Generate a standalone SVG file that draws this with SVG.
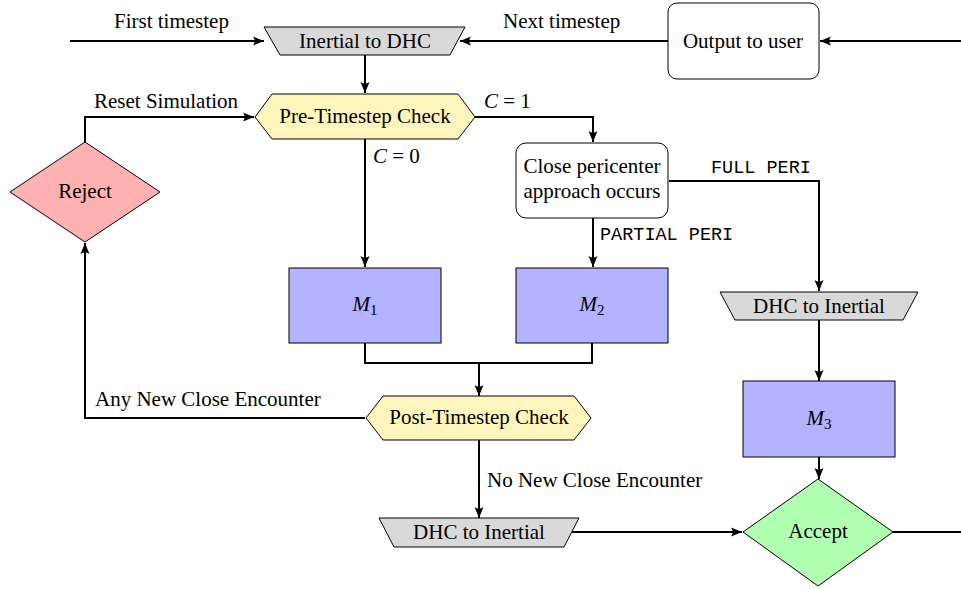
<svg xmlns="http://www.w3.org/2000/svg" width="961" height="589" viewBox="0 0 961 589">
<defs>
<marker id="arr" markerUnits="userSpaceOnUse" markerWidth="13" markerHeight="11" refX="11" refY="4.5" orient="auto" overflow="visible">
<path d="M0,0 L11,4.5 L0,9 Q3.5,4.5 0,0 Z" fill="#000"/>
</marker>
<style>
text{font-family:"Liberation Serif","Times New Roman",serif;font-size:21px;fill:#000}
.c{text-anchor:middle}
.mono{font-family:"Liberation Mono","DejaVu Sans Mono",monospace;font-size:18.5px}
.it{font-style:italic}
.sub{font-size:15px}
.gray{fill:#d9d9d9;stroke:#000;stroke-width:1}
.yel{fill:#fdf5bc;stroke:#000;stroke-width:1}
.blue{fill:#b3b3ff;stroke:#000;stroke-width:1}
.red{fill:#ffb0b0;stroke:#000;stroke-width:1}
.grn{fill:#b0ffb0;stroke:#000;stroke-width:1}
.wht{fill:#fff;stroke:#000;stroke-width:1}
.e{fill:none;stroke:#000;stroke-width:2}
.a{marker-end:url(#arr)}
</style>
</defs>
<rect width="961" height="589" fill="#fff"/>

<g id="connectors">
<path class="e a" d="M70,41 H264"/>
<path class="e a" d="M668,41 H460"/>
<path class="e a" d="M961,41 H820"/>
<path class="e a" d="M365,55 V93"/>
<path class="e a" d="M85,142 V117 H254"/>
<path class="e a" d="M475,117 H593 V142"/>
<path class="e a" d="M365,139 V267"/>
<path class="e a" d="M593,218 V267"/>
<path class="e a" d="M669,181 H819 V291"/>
<path class="e" d="M365,343 V363 H592 V343"/>
<path class="e a" d="M479,363 V396"/>
<path class="e a" d="M365,418 H85 V243"/>
<path class="e a" d="M479,440 V518"/>
<path class="e a" d="M572,532 H742"/>
<path class="e a" d="M819,320 V381"/>
<path class="e a" d="M819,457 V479"/>
<path class="e" d="M893,532 H961"/>
<text x="114" y="28">First timestep</text>
<text x="503" y="28">Next timestep</text>
<text x="94" y="108">Reset Simulation</text>
<text x="484" y="108"><tspan class="it">C</tspan> = 1</text>
<text x="373" y="163"><tspan class="it">C</tspan> = 0</text>
<text class="mono" x="711" y="173">FULL PERI</text>
<text class="mono" x="600" y="240">PARTIAL PERI</text>
<text x="95" y="406">Any New Close Encounter</text>
<text x="487" y="487">No New Close Encounter</text>
</g>

<g id="inertial_to_dhc">
<polygon class="gray" points="264,27 465,27 450,55 280,55"/>
<text class="c" x="365" y="48">Inertial to DHC</text>
</g>

<g id="output_to_user">
<rect class="wht" x="668" y="3" width="151" height="76" rx="9"/>
<text class="c" x="743" y="48">Output to user</text>
</g>

<g id="pre_check">
<polygon class="yel" points="255,117 272,94 458,94 475,117 458,139 272,139"/>
<text class="c" x="365" y="123">Pre-Timestep Check</text>
</g>

<g id="reject">
<polygon class="red" points="85,142 160,192 85,242 10,192"/>
<text class="c" x="85" y="198">Reject</text>
</g>

<g id="close_peri">
<rect class="wht" x="516" y="143" width="152" height="75" rx="10"/>
<text class="c" x="592" y="173">Close pericenter</text>
<text class="c" x="592" y="198">approach occurs</text>
</g>

<g id="m1">
<rect class="blue" x="289" y="268" width="152" height="75"/>
<text class="c" x="365" y="311"><tspan class="it">M</tspan><tspan class="sub" dy="4">1</tspan></text>
</g>

<g id="m2">
<rect class="blue" x="516" y="268" width="152" height="75"/>
<text class="c" x="592" y="311"><tspan class="it">M</tspan><tspan class="sub" dy="4">2</tspan></text>
</g>

<g id="dhc_to_inertial_right">
<polygon class="gray" points="720,292 918,292 903,320 735,320"/>
<text class="c" x="819" y="313">DHC to Inertial</text>
</g>

<g id="m3">
<rect class="blue" x="743" y="381" width="152" height="76"/>
<text class="c" x="819" y="425"><tspan class="it">M</tspan><tspan class="sub" dy="4">3</tspan></text>
</g>

<g id="post_check">
<polygon class="yel" points="366,418 383,396 574,396 591,418 574,440 383,440"/>
<text class="c" x="479" y="424">Post-Timestep Check</text>
</g>

<g id="dhc_to_inertial_bottom">
<polygon class="gray" points="379,518 579,518 564,547 394,547"/>
<text class="c" x="479" y="539">DHC to Inertial</text>
</g>

<g id="accept">
<polygon class="grn" points="818,479 893,532 818,586 743,532"/>
<text class="c" x="818" y="538">Accept</text>
</g>
</svg>
